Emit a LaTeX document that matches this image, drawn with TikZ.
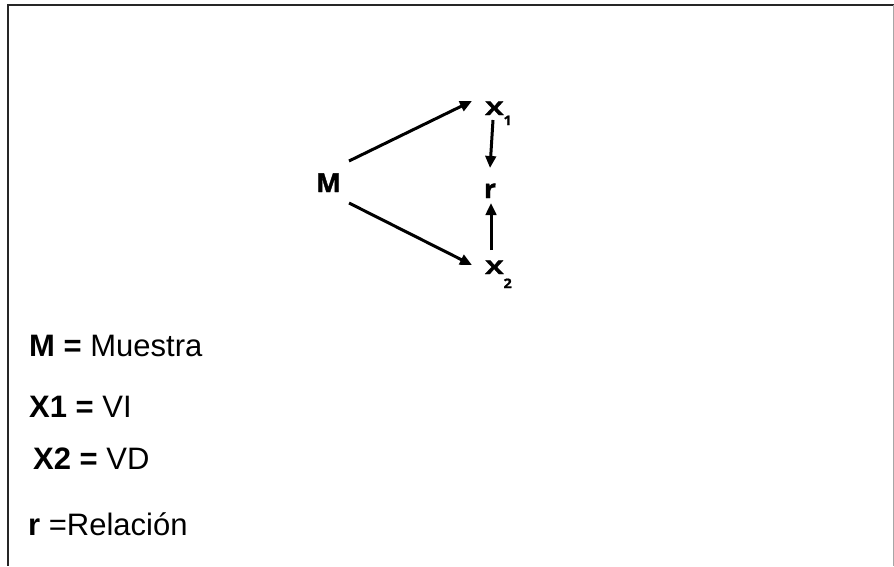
\documentclass[tikz,border=0pt]{standalone}
\usepackage{fontspec}
\usepackage{graphicx}
\setmainfont{Liberation Sans}
\newfontfamily\diagfont[BoldFeatures={FakeBold=1.5}]{Open Sans}
\usetikzlibrary{arrows.meta}
\tikzset{
  dlabel/.style={inner sep=0pt, font=\diagfont\bfseries\fontsize{26}{30}\selectfont},
  xlabel/.style={inner sep=0pt, anchor=base west, font=\diagfont\bfseries\fontsize{19}{23}\selectfont},
  legend/.style={inner sep=0pt, anchor=base west, font=\fontsize{31}{36}\selectfont},
  arr/.style={line width=3pt, -{Triangle[length=12pt,width=10.5pt]}},
  frame/.style={line width=2pt, draw=black!85}
}
\begin{document}
\begin{tikzpicture}[x=1pt,y=-1pt]
\useasboundingbox (0,0) rectangle (894,566);
% frame
\coordinate (tl) at (7.5,5);
\coordinate (tr) at (894,5);
\coordinate (bl) at (7.5,566);
\coordinate (rt) at (893,5);
\coordinate (rb) at (893,566);
\draw[frame] (tr) -- (tl) -- (bl);
\draw[line width=0.6pt, draw=black!35] (rt) -- (rb);
% diagram nodes
\node[dlabel, anchor=base] (M) at (328.5,192) {M};
\node[xlabel] (X1) at (485,115) {\scalebox{1.45}[1]{X}\raisebox{-10pt}{\fontsize{13}{13}\selectfont\scalebox{1.1}[1]{1}}};
\node[dlabel, anchor=base] (r) at (490,198) {r};
\node[xlabel] (X2) at (485,274) {\scalebox{1.45}[1]{X}\raisebox{-14pt}{\fontsize{13}{13}\selectfont\scalebox{1.1}[1]{2}}};
% connectors
\draw[arr] ([shift={(20.5,-31)}]M.base) -- ([shift={(-13,-14)}]X1.base west);
\draw[arr] ([shift={(20.5,11)}]M.base) -- ([shift={(-13,-9)}]X2.base west);
\draw[arr] ([shift={(8,5)}]X1.base west) -- ([shift={(0,-30)}]r.base);
\draw[arr] ([shift={(6,-24)}]X2.base west) -- ([shift={(1,5)}]r.base);
% legend
\node[legend] (l1) at (29,356) {\textbf{M =} Muestra};
\node[legend] (l2) at (29,417) {\textbf{X1 =} VI};
\node[legend] (l3) at (33,469) {\textbf{X2 =} VD};
\node[legend] (l4) at (28,535) {\textbf{r} =Relación};
\end{tikzpicture}
\end{document}
